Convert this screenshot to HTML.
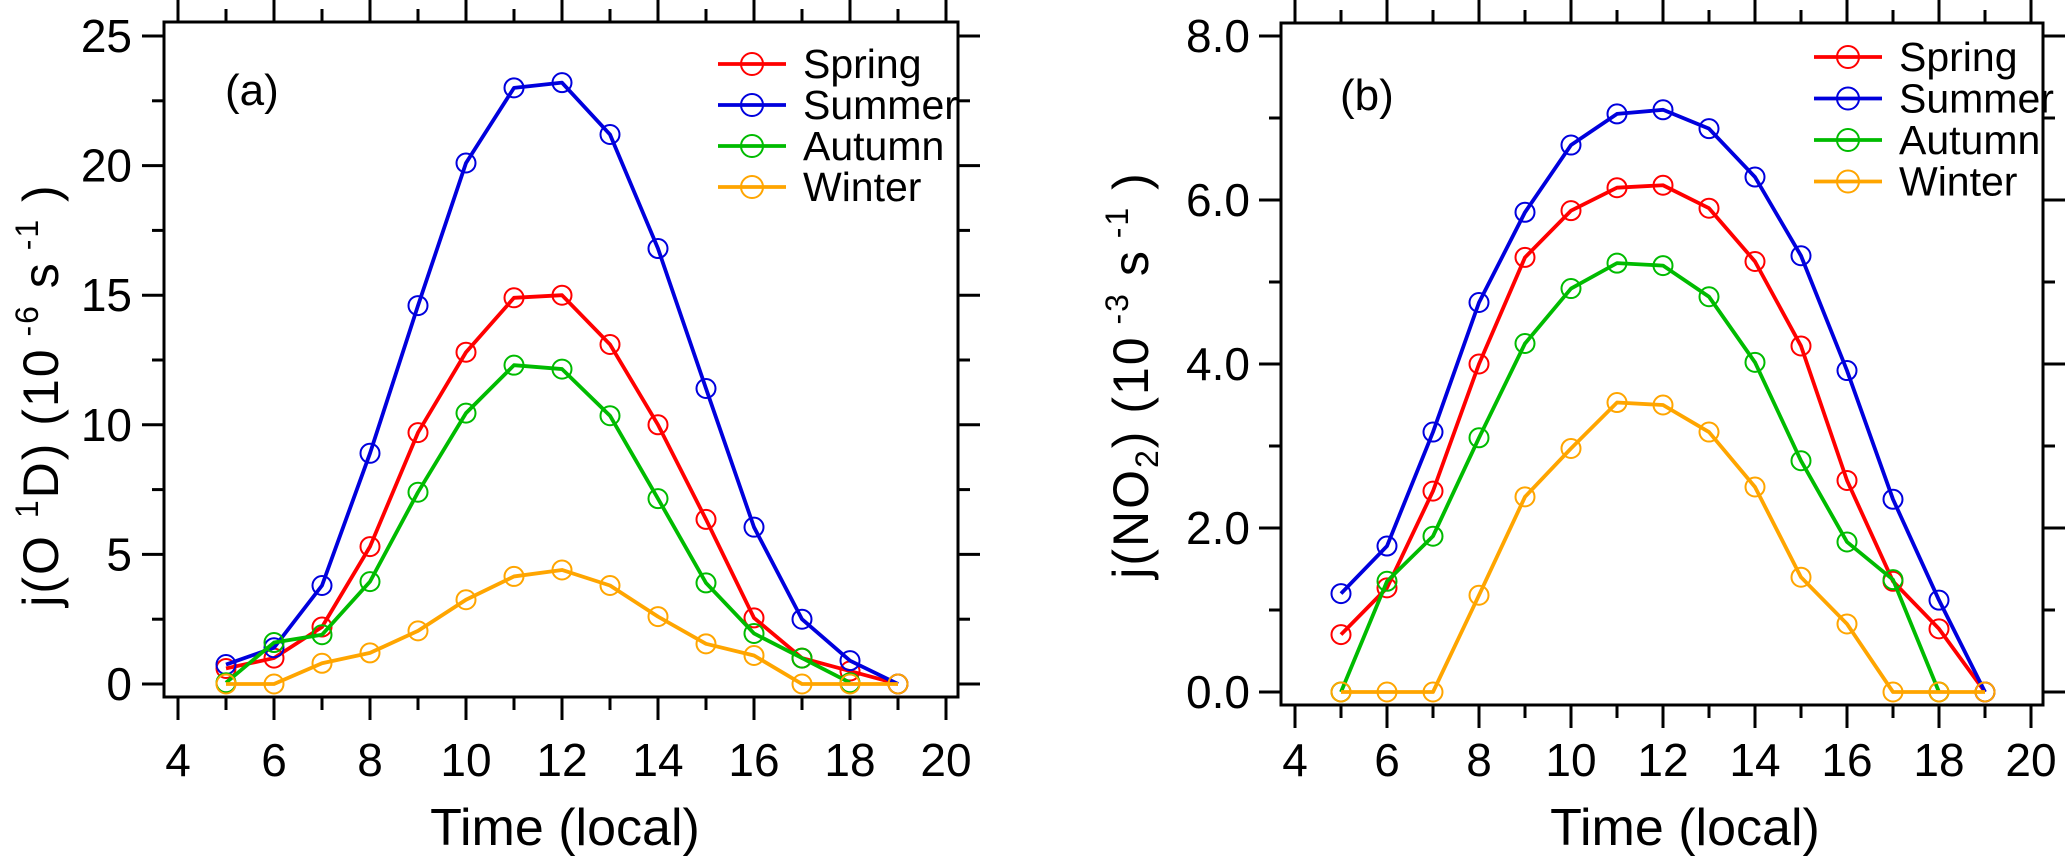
<!DOCTYPE html>
<html><head><meta charset="utf-8">
<style>
html,body{margin:0;padding:0;background:#fff;}
svg{display:block;font-family:"Liberation Sans",Arial,sans-serif;}
</style></head>
<body>
<svg id="fig" width="2067" height="856" viewBox="0 0 2067 856" xmlns="http://www.w3.org/2000/svg"></svg>
<script>
const hours = [5,6,7,8,9,10,11,12,13,14,15,16,17,18,19];
const autumnHours = [5,6,7,8,9,10,11,12,13,14,15,16,17,18];
const seasonNames = ["Spring","Summer","Autumn","Winter"];
// Panel (a) j(O1D)
const aSpring = [0.6,1.0,2.2,5.3,9.7,12.8,14.9,15.0,13.1,10.0,6.35,2.55,1.0,0.5,0];
const aSummer = [0.75,1.4,3.8,8.9,14.6,20.1,23.0,23.2,21.2,16.8,11.4,6.05,2.5,0.9,0];
const aAutumn = [0.05,1.6,1.9,3.95,7.4,10.45,12.3,12.15,10.35,7.15,3.9,1.95,1.0,0.05];
const aWinter = [0,0,0.8,1.2,2.05,3.25,4.15,4.4,3.8,2.6,1.55,1.1,0,0,0];
// Panel (b) j(NO2)
const bSpring = [0.7,1.27,2.45,4.0,5.3,5.87,6.15,6.18,5.9,5.25,4.22,2.58,1.35,0.77,0];
const bSummer = [1.2,1.78,3.17,4.75,5.85,6.67,7.05,7.1,6.87,6.28,5.32,3.92,2.35,1.12,0];
const bAutumn = [0,1.35,1.9,3.1,4.25,4.92,5.23,5.2,4.82,4.02,2.82,1.83,1.37,0];
const bWinter = [0,0,0,1.18,2.38,2.97,3.53,3.5,3.17,2.5,1.4,0.83,0,0,0];
const xTicks = [4,6,8,10,12,14,16,18,20];
const aYTicks = [0,5,10,15,20,25];
const bYTicks = [0,2,4,6,8];
const bYLabels = ["0.0","2.0","4.0","6.0","8.0"];

const NS="http://www.w3.org/2000/svg";
const svg=document.getElementById('fig');
const colors=["#ff0000","#0000dd","#00bb00","#ffa500"];
function mk(tag,attrs,parent){const e=document.createElementNS(NS,tag);for(const k in attrs)e.setAttribute(k,attrs[k]);(parent||svg).appendChild(e);return e;}

function panel(cfg){
  const g=mk('g',{});
  
  
  const X=v=>cfg.x4+(v-4)*cfg.xu;
  const Y=v=>cfg.y0-v*cfg.yu;
  const fr=mk('rect',{x:cfg.L,y:cfg.T,width:cfg.R-cfg.L,height:cfg.B-cfg.T,fill:'none',stroke:'#000','stroke-width':3},g);
  
  
  for(let v=4;v<=20;v++){
    const major=v%2===0;const len=major?23:13;const x=X(v);
    mk('line',{x1:x,y1:cfg.B,x2:x,y2:cfg.B+len,stroke:'#000','stroke-width':3},g);
    mk('line',{x1:x,y1:cfg.T,x2:x,y2:cfg.T-len,stroke:'#000','stroke-width':3},g);
  }
  xTicks.forEach(v=>{
    const t=mk('text',{x:X(v),y:776,'font-size':46,'text-anchor':'middle'},g);
    t.textContent=v;
    
    
  });
  const maxY=cfg.yTicks[cfg.yTicks.length-1];
  for(let v=0;v<=maxY+1e-9;v+=cfg.minor){
    const major=Math.abs(v/cfg.major-Math.round(v/cfg.major))<1e-6;const len=major?22:12;const y=Y(v);
    mk('line',{x1:cfg.L,y1:y,x2:cfg.L-len,y2:y,stroke:'#000','stroke-width':3},g);
    mk('line',{x1:cfg.R,y1:y,x2:cfg.R+len,y2:y,stroke:'#000','stroke-width':3},g);
  }
  cfg.yTicks.forEach((v,i)=>{
    const t=mk('text',{x:cfg.ylx,y:Y(v)+16,'font-size':46,'text-anchor':'end'},g);
    t.textContent=cfg.yLabels?cfg.yLabels[i]:v;
    
    
  });
  const xt=mk('text',{x:cfg.xtx,y:845,'font-size':52,'text-anchor':'middle'},g);
  xt.textContent='Time (local)';
  
  
  const yt=mk('text',{x:0,y:0,'font-size':50,'text-anchor':'middle','letter-spacing':2,transform:`translate(${cfg.ytx},${cfg.yty}) rotate(-90)`},g);
  yt.innerHTML=cfg.ytitle;
  
  
  const pl=mk('text',{x:cfg.plx,y:cfg.ply,'font-size':44},g);
  pl.textContent=cfg.label;
  
  
  cfg.series.forEach((s,si)=>{
    const xs=s.length===autumnHours.length?autumnHours:hours;
    const sg=mk('g',{},g);
    
    
    const pts=s.map((v,i)=>X(xs[i])+','+Y(v)).join(' ');
    mk('polyline',{points:pts,fill:'none',stroke:colors[si],'stroke-width':3.8,'stroke-linejoin':'round'},sg);
    s.forEach((v,i)=>{
      const c=mk('circle',{cx:X(xs[i]),cy:Y(v),r:9.5,fill:'none',stroke:colors[si],'stroke-width':2},sg);
      
      
    });
  });
  const lg=mk('g',{},g);
  
  
  seasonNames.forEach((n,i)=>{
    const y=cfg.legY+i*cfg.legDy;
    const eg=mk('g',{},lg);
    
    
    mk('line',{x1:cfg.legX,y1:y,x2:cfg.legX+68,y2:y,stroke:colors[i],'stroke-width':3.8},eg);
    mk('circle',{cx:cfg.legX+34,cy:y,r:11,fill:'none',stroke:colors[i],'stroke-width':2},eg);
    const t=mk('text',{x:cfg.legX+85,y:y+14,'font-size':41},eg);
    t.textContent=n;
  });
}

panel({name:'panel-a-jO1D',L:164,R:958,T:22,B:697,x4:178,xu:48,y0:684,yu:25.92,
  yTicks:aYTicks,major:5,minor:2.5,ylx:132,xtx:565,ytx:58,yty:395,
  ytitle:'j(O <tspan font-size="32" dy="-20">1</tspan><tspan dy="20">D) (10</tspan><tspan font-size="32" dy="-20"> -6</tspan><tspan dy="20"> s</tspan><tspan font-size="32" dy="-20"> -1</tspan><tspan dy="20"> )</tspan>',
  label:'(a)',plx:225,ply:105,series:[aSpring,aSummer,aAutumn,aWinter],
  legX:718,legY:64,legDy:41});
panel({name:'panel-b-jNO2',L:1281,R:2043,T:23,B:705,x4:1295,xu:46,y0:692,yu:82,
  yTicks:bYTicks,yLabels:bYLabels,major:2,minor:1,ylx:1250,xtx:1685,ytx:1148,yty:375,
  ytitle:'j(NO<tspan font-size="32" dy="10">2</tspan><tspan dy="-10">) (10</tspan><tspan font-size="32" dy="-20"> -3</tspan><tspan dy="20"> s</tspan><tspan font-size="32" dy="-20"> -1</tspan><tspan dy="20"> )</tspan>',
  label:'(b)',plx:1340,ply:110,series:[bSpring,bSummer,bAutumn,bWinter],
  legX:1814,legY:57,legDy:41.5});
</script>
</body></html>
